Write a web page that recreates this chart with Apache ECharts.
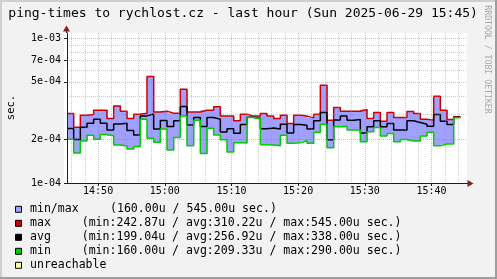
<!DOCTYPE html>
<html>
<head>
<meta charset="utf-8">
<script src="https://cdn.jsdelivr.net/npm/echarts@6.0.0/dist/echarts.min.js"></script>
<style>
html,body{margin:0;padding:0;background:#f2f2f2;overflow:hidden}
#chart{width:497px;height:279px}
</style>
</head>
<body>
<div id="chart"></div>
<script>
// ---------------- data ----------------
const titleText = 'ping-times to rychlost.cz - last hour (Sun 2025-06-29 15:45)';
const watermarkText = 'RRDTOOL / TOBI OETIKER';
const yAxisTitle = 'sec.';

const axisStart = '14:45:20';
const axisEnd = '15:45:20';
const firstStep = '14:45:20';      // start of the first one-minute step
const stepMinutes = 1;
const xLabelTimes = ['14:50', '15:00', '15:10', '15:20', '15:30', '15:40'];

const yTickValues = [1e-4, 2e-4, 5e-4, 7e-4, 1e-3];
const yTickLabels = ['1e-04', '2e-04', '5e-04', '7e-04', '1e-03'];
const yMinorValues = [3e-4, 4e-4, 6e-4, 8e-4, 9e-4];
const yMin = 1e-4;
const yMax = 1.0885e-3;

// per-minute ping times in microseconds
const maxUs = [302,243,294,297,318,318,279,341,313,279,299,304,545,310,313,304,304,445,310,310,
               318,318,336,290,290,269,299,290,291,302,290,279,294,258,294,290,282,299,474,272,
               332,313,313,313,322,279,307,267,307,284,284,312,302,276,272,398,318,275,287];
const avgUs = [238,200,243,259,276,259,232,256,259,231,215,291,300,236,270,246,269,338,252,284,
               246,284,276,225,237,221,254,285,280,237,240,236,255,222,254,251,236,269,307,199,
               273,290,272,275,222,245,269,245,258,232,232,269,262,255,247,297,267,254,285];
const minUs = [201,161,195,214,201,216,212,183,180,172,179,276,204,191,236,169,206,290,181,272,
               160,239,215,199,164,190,189,284,278,184,183,181,214,188,190,196,188,224,255,175,
               245,247,232,232,193,226,242,211,220,193,200,195,195,211,224,181,186,186,282];

const legendNames = ['min/max', 'max', 'avg', 'min', 'unreachable'];
const legendStats = [
  '(160.00u / 545.00u sec.)',
  '(min:242.87u / avg:310.22u / max:545.00u sec.)',
  '(min:199.04u / avg:256.92u / max:338.00u sec.)',
  '(min:160.00u / avg:209.33u / max:290.00u sec.)',
  ''
];

// ---------------- styles ----------------
const MONO = '"DejaVu Sans Mono", monospace';
const bandColor = '#a0a0ff';
const maxColor = '#cc0000';
const avgColor = '#000000';
const minColor = '#00cc00';
const unreachColor = '#ffff99';
const legendColors = [bandColor, maxColor, avgColor, minColor, unreachColor];
const GRID = 'rgba(143,143,143,0.45)';
const MGRID = 'rgba(222,79,79,0.45)';
const AXIS = '#1f1f1f';
const ARROW = '#801f1f';

// ---------------- helpers ----------------
function toMin(s) { const p = s.split(':').map(Number); return p[0] * 60 + p[1] + (p[2] || 0) / 60; }
function fmtTime(v) { const t = Math.round(v); const h = Math.floor(t / 60); const m = t % 60; return h + ':' + (m < 10 ? '0' : '') + m; }
const toSec = us => us * 1e-6;

const xMin = toMin(axisStart), xMax = toMin(axisEnd);
const xMajor = xLabelTimes.map(toMin);
const xMinor = [];
for (let m = Math.ceil(xMin / 2) * 2; m < xMax; m += 2) { if (m % 10 !== 0) xMinor.push(m); }
const yLog = yTickValues.map(Math.log10);
const yMinorLog = yMinorValues.map(Math.log10);

const t0 = toMin(firstStep);
const stepTimes = maxUs.map((_, i) => t0 + i * stepMinutes);
const stepEnd = t0 + maxUs.length * stepMinutes;
const stepLine = arr => arr.map((v, i) => [stepTimes[i], toSec(v)]).concat([[stepEnd, toSec(arr[arr.length - 1])]]);
const bandData = maxUs.map((v, i) => [stepTimes[i], stepTimes[i] + stepMinutes, toSec(minUs[i]), toSec(v)]);

// ---------------- graphic (frame, texts, legend) ----------------
const graphics = [
  {type:'rect', z:-10, shape:{x:64, y:33, width:403, height:151}, style:{fill:'#ffffff'}},
  {type:'rect', z:50, shape:{x:0, y:0, width:497, height:2}, style:{fill:'#cfcfcf'}},
  {type:'rect', z:50, shape:{x:0, y:0, width:2, height:279}, style:{fill:'#cfcfcf'}},
  {type:'rect', z:51, shape:{x:0, y:277, width:497, height:2}, style:{fill:'#9e9e9e'}},
  {type:'rect', z:51, shape:{x:495, y:0, width:2, height:279}, style:{fill:'#9e9e9e'}},
  {type:'text', z:50, x:8.3, y:13.4, style:{text:titleText, font:'13px ' + MONO, fill:'#000', align:'left', verticalAlign:'middle'}},
  {type:'text', z:50, x:487.5, y:59.5, rotation:-Math.PI / 2, style:{text:watermarkText, font:'8.2px ' + MONO, fill:'#a8a8a8', align:'center', verticalAlign:'middle'}},
  {type:'text', z:50, x:11.7, y:107.5, rotation:Math.PI / 2, style:{text:yAxisTitle, font:'10.5px ' + MONO, fill:'#000', align:'center', verticalAlign:'middle'}},
  // axis extensions + arrows
  {type:'line', z:50, shape:{x1:467, y1:183.5, x2:469, y2:183.5}, style:{stroke:AXIS, lineWidth:1}},
  {type:'polygon', z:50, shape:{points:[[467.5,180],[473.5,183.5],[467.5,187]]}, style:{fill:ARROW}},
  {type:'line', z:50, shape:{x1:66.5, y1:30, x2:66.5, y2:33}, style:{stroke:AXIS, lineWidth:1}},
  {type:'polygon', z:50, shape:{points:[[63,31.5],[66.5,25.5],[70,31.5]]}, style:{fill:ARROW}}
];
const rowY = [209.3, 223.3, 237.3, 251.3, 265.3];
const statX = [110, 81.7, 81.7, 81.7, 81.7];
legendNames.forEach((n, i) => {
  graphics.push({type:'rect', z:50, shape:{x:15.5, y:rowY[i] - 3, width:6, height:6}, style:{fill:legendColors[i], stroke:'#000', lineWidth:1}});
  graphics.push({type:'text', z:50, x:30, y:rowY[i], style:{text:n, font:'11.56px ' + MONO, fill:'#000', align:'left', verticalAlign:'middle'}});
  if (legendStats[i]) graphics.push({type:'text', z:50, x:statX[i], y:rowY[i], style:{text:legendStats[i], font:'11.56px ' + MONO, fill:'#000', align:'left', verticalAlign:'middle'}});
});

// ---------------- chart ----------------
const chart = echarts.init(document.getElementById('chart'), null, {renderer:'canvas'});
const option = {
  backgroundColor: '#f2f2f2',
  animation: false,
  grid: {left:67, top:33, width:400, height:150, show:false, containLabel:false, outerBoundsMode:'none'},
  xAxis: [
    {type:'value', min:xMin, max:xMax, position:'bottom', z:10,
     axisLine:{show:true, onZero:false, lineStyle:{color:AXIS, width:1}},
     axisTick:{show:true, customValues:xMajor, length:3, lineStyle:{color:AXIS}},
     axisLabel:{show:true, customValues:xMajor, formatter:v => fmtTime(v), margin:3, color:'#000', fontFamily:MONO, fontSize:10},
     splitLine:{show:true, lineStyle:{color:MGRID, type:[1,1], width:1}}},
    {type:'value', min:xMin, max:xMax, position:'bottom', z:10,
     axisLine:{show:false}, axisTick:{show:false, customValues:xMinor}, axisLabel:{show:false},
     splitLine:{show:true, lineStyle:{color:GRID, type:[1,1], width:1}}}
  ],
  yAxis: [
    {type:'log', logBase:10, min:yMin, max:yMax, position:'left', z:10,
     axisLine:{show:true, onZero:false, lineStyle:{color:AXIS, width:1}},
     axisTick:{show:false}, axisLabel:{show:false}, splitLine:{show:false}, minorSplitLine:{show:false}},
    {type:'value', min:Math.log10(yMin), max:Math.log10(yMax), position:'left', z:10,
     axisLine:{show:false}, axisTick:{show:true, customValues:yLog, length:3, lineStyle:{color:AXIS}},
     axisLabel:{show:true, customValues:yLog, margin:6, color:'#000', fontFamily:MONO, fontSize:10,
       formatter:v => { let b = 0; yLog.forEach((l, i) => { if (Math.abs(l - v) < Math.abs(yLog[b] - v)) b = i; }); return yTickLabels[b]; }},
     splitLine:{show:true, lineStyle:{color:MGRID, type:[1,1], width:1}}},
    {type:'value', min:Math.log10(yMin), max:Math.log10(yMax), position:'left', z:10,
     axisLine:{show:false}, axisTick:{show:false, customValues:yMinorLog}, axisLabel:{show:false},
     splitLine:{show:true, lineStyle:{color:GRID, type:[1,1], width:1}}}
  ],
  series: [
    {type:'custom', name:'min/max', xAxisIndex:0, yAxisIndex:0, z:2, clip:true,
     encode:{x:[0,1], y:[2,3]}, data:bandData,
     renderItem:(params, api) => {
       const pTop = api.coord([api.value(0), api.value(3)]);
       const pBot = api.coord([api.value(1), api.value(2)]);
       return {type:'rect', shape:{x:pTop[0], y:pTop[1], width:pBot[0] - pTop[0] + 0.6, height:pBot[1] - pTop[1]}, style:{fill:bandColor}};
     }},
    {type:'line', name:'max', step:'end', xAxisIndex:0, yAxisIndex:0, z:3, symbol:'none', data:stepLine(maxUs), lineStyle:{color:maxColor, width:1.5}},
    {type:'line', name:'avg', step:'end', xAxisIndex:0, yAxisIndex:0, z:4, symbol:'none', data:stepLine(avgUs), lineStyle:{color:avgColor, width:1.5}},
    {type:'line', name:'min', step:'end', xAxisIndex:0, yAxisIndex:0, z:5, symbol:'none', data:stepLine(minUs), lineStyle:{color:minColor, width:1.5}}
  ],
  graphic: graphics
};
chart.setOption(option);
</script>
</body>
</html>
